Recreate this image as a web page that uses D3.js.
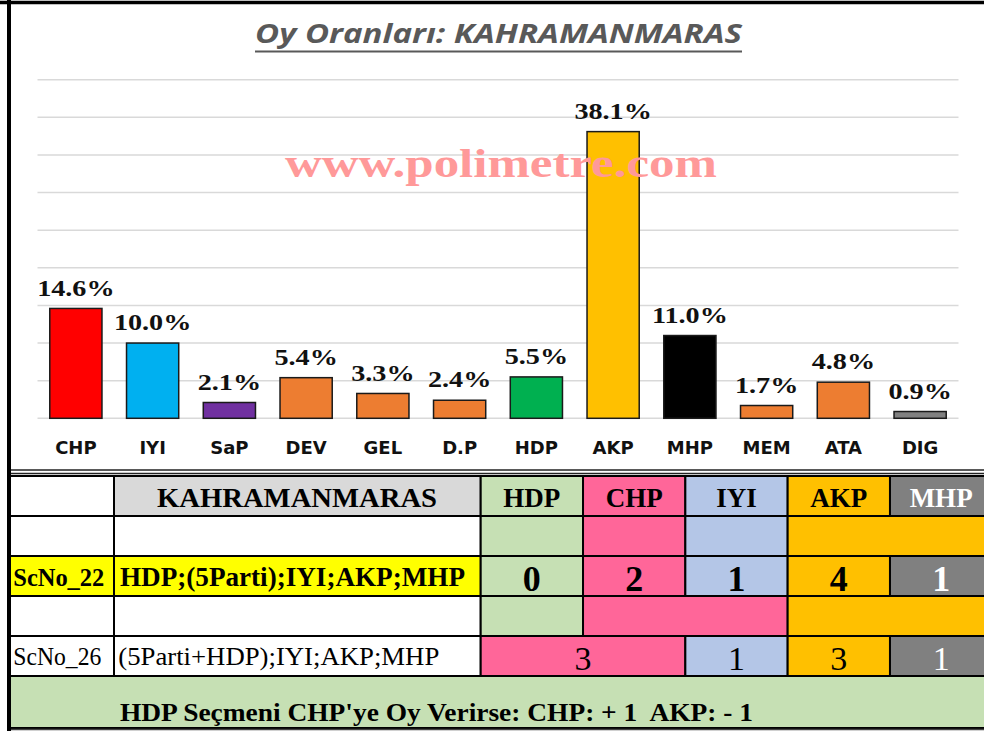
<!DOCTYPE html>
<html>
<head>
<meta charset="utf-8">
<script src="https://cdn.jsdelivr.net/npm/d3@7"></script>
<style>
  html, body { margin: 0; padding: 0; background: #fff; }
  svg { display: block; }
  text { white-space: pre; }
</style>
</head>
<body>
<main></main>
<script>
var width = 984;
var height = 731;

// chart data
var parties = ['CHP', 'IYI', 'SaP', 'DEV', 'GEL', 'D.P', 'HDP', 'AKP', 'MHP', 'MEM', 'ATA', 'DIG'];
var shares = [14.6, 10.0, 2.1, 5.4, 3.3, 2.4, 5.5, 38.1, 11.0, 1.7, 4.8, 0.9];
var barColors = ['#ff0000', '#00b0f0', '#7030a0', '#ed7d31', '#ed7d31', '#ed7d31',
                 '#00b050', '#ffc000', '#000000', '#ed7d31', '#ed7d31', '#808080'];
var yTicks = [0, 5, 10, 15, 20, 25, 30, 35, 40, 45];

// table data
var province = 'KAHRAMANMARAS';
var tableParties = ['HDP', 'CHP', 'IYI', 'AKP', 'MHP'];
var partyFills = ['#c6e0b4', '#ff6699', '#b4c6e7', '#ffc000', '#808080'];
var partyText = ['#000', '#000', '#000', '#000', '#fff'];
var scenarioIds = ['ScNo_22', 'ScNo_26'];
var scenarioOrders = ['HDP;(5Parti);IYI;AKP;MHP', '(5Parti+HDP);IYI;AKP;MHP'];
// alliance blocks: [first party, last party]
var blocks22 = [['HDP', 'HDP'], ['CHP', 'CHP'], ['IYI', 'IYI'], ['AKP', 'MHP']];
var seats22 = [0, 2, 1, 4, 1];
var blocks26 = [['HDP', 'HDP'], ['CHP', 'IYI'], ['AKP', 'MHP']];
var seatBlocks26 = [['HDP', 'CHP'], ['IYI', 'IYI'], ['AKP', 'AKP'], ['MHP', 'MHP']];
var seats26 = [3, 1, 3, 1];
var footNote = "HDP Seçmeni CHP'ye Oy Verirse: CHP: + 1  AKP: - 1";

var svg = d3.select('main').append('svg')
  .attr('width', width)
  .attr('height', height);

svg.append('rect')
  .attr('width', width)
  .attr('height', height)
  .attr('fill', '#fff');

// ---- bar chart ----
var x = d3.scaleBand()
  .domain(parties)
  .range([37.5, 958.5])
  .paddingInner(0.32)
  .paddingOuter(0.16);

var y = d3.scaleLinear()
  .domain([0, 45])
  .range([418.3, 79.7]);

svg.selectAll('.grid')
  .data(yTicks)
  .enter().append('line')
  .attr('class', 'grid')
  .attr('x1', 37.5)
  .attr('x2', 958.5)
  .attr('y1', function(d) { return y(d); })
  .attr('y2', function(d) { return y(d); })
  .attr('stroke', '#d9d9d9')
  .attr('stroke-width', 1.5);

svg.append('text')
  .attr('x', 255)
  .attr('y', 43)
  .attr('textLength', 487)
  .attr('lengthAdjust', 'spacingAndGlyphs')
  .attr('font-family', 'Open Sans')
  .attr('font-style', 'italic')
  .attr('font-weight', 'bold')
  .attr('font-size', 27)
  .attr('fill', '#595959')
  .text('Oy Oranları: ' + province);

svg.append('line')
  .attr('x1', 255).attr('x2', 742)
  .attr('y1', 51.5).attr('y2', 51.5)
  .attr('stroke', '#595959')
  .attr('stroke-width', 2);

svg.selectAll('.bar')
  .data(shares)
  .enter().append('rect')
  .attr('class', 'bar')
  .attr('x', function(d, i) { return x(parties[i]); })
  .attr('y', function(d) { return y(d); })
  .attr('width', x.bandwidth())
  .attr('height', function(d) { return y(0) - y(d); })
  .attr('fill', function(d, i) { return barColors[i]; })
  .attr('stroke', '#1a1a1a')
  .attr('stroke-width', 1.5);

svg.selectAll('.val')
  .data(shares)
  .enter().append('text')
  .attr('class', 'val')
  .attr('transform', function(d, i) {
    return 'translate(' + (x(parties[i]) + x.bandwidth() / 2) + ',' + (y(d) - 12.8) + ') scale(1.2,1)';
  })
  .attr('text-anchor', 'middle')
  .attr('font-family', 'Liberation Serif')
  .attr('font-weight', 'bold')
  .attr('font-size', 23.5)
  .attr('fill', '#111')
  .text(function(d) { return d.toFixed(1) + '%'; });

svg.selectAll('.cat')
  .data(parties)
  .enter().append('text')
  .attr('class', 'cat')
  .attr('x', function(d) { return x(d) + x.bandwidth() / 2; })
  .attr('y', 453.5)
  .attr('text-anchor', 'middle')
  .attr('font-family', 'DejaVu Sans')
  .attr('font-weight', 'bold')
  .attr('font-size', 18)
  .attr('fill', '#111')
  .text(function(d) { return d; });

// watermark
svg.append('text')
  .attr('x', 285)
  .attr('y', 176.7)
  .attr('textLength', 432)
  .attr('lengthAdjust', 'spacingAndGlyphs')
  .attr('font-family', 'Liberation Serif')
  .attr('font-weight', 'bold')
  .attr('font-size', 40)
  .attr('fill', '#ff9999')
  .text('www.polimetre.com');

// ---- table ----
var col = d3.scaleBand()
  .domain(tableParties)
  .range([480.7, 992.3]);

var row = d3.scaleBand()
  .domain([0, 1, 2, 3, 4])
  .range([476, 676]);

var table = svg.append('g');

function cell(x0, x1, r, fill) {
  table.append('rect')
    .attr('x', x0)
    .attr('y', row(r))
    .attr('width', x1 - x0)
    .attr('height', row.bandwidth())
    .attr('fill', fill)
    .attr('stroke', '#000')
    .attr('stroke-width', 2);
}

function label(txt, xPos, r, opts) {
  var t = table.append('text')
    .attr('x', xPos)
    .attr('y', row(r) + opts.dy)
    .attr('text-anchor', opts.anchor || 'middle')
    .attr('font-family', 'Liberation Serif')
    .attr('font-weight', opts.bold ? 'bold' : 'normal')
    .attr('font-size', opts.size)
    .attr('fill', opts.fill || '#000')
    .text(txt);
  if (opts.len) {
    t.attr('textLength', opts.len).attr('lengthAdjust', 'spacingAndGlyphs');
  }
}

function blockX(b) {
  return [col(b[0]), col(b[1]) + col.bandwidth()];
}

function partyFill(p) {
  return partyFills[tableParties.indexOf(p)];
}

// left columns
var leftFills = ['#fff', '#fff', '#ffff00', '#fff', '#fff'];
var midFills = ['#d9d9d9', '#fff', '#ffff00', '#fff', '#fff'];
leftFills.forEach(function(f, r) {
  cell(9, 114, r, f);
  cell(114, 480.7, r, midFills[r]);
});

// header row
tableParties.forEach(function(p, i) {
  cell(col(p), col(p) + col.bandwidth(), 0, partyFills[i]);
  label(p, col(p) + col.bandwidth() / 2, 0, { dy: 30.7, size: 27, bold: true, fill: partyText[i] });
});
label(province, 297, 0, { dy: 30.7, size: 27, bold: true, len: 280 });

// ScNo_22 alliances and seats
blocks22.forEach(function(b) {
  var xs = blockX(b);
  cell(xs[0], xs[1], 1, partyFill(b[0]));
});
tableParties.forEach(function(p, i) {
  cell(col(p), col(p) + col.bandwidth(), 2, partyFills[i]);
  label(seats22[i], col(p) + col.bandwidth() / 2, 2, { dy: 35, size: 36, bold: true, fill: partyText[i] });
});
label(scenarioIds[0], 13.3, 2, { dy: 30, size: 26, bold: true, anchor: 'start', len: 91 });
label(scenarioOrders[0], 120, 2, { dy: 30, size: 27, bold: true, anchor: 'start', len: 345 });

// ScNo_26 alliances and seats
blocks26.forEach(function(b) {
  var xs = blockX(b);
  cell(xs[0], xs[1], 3, partyFill(b[0]));
});
seatBlocks26.forEach(function(b, i) {
  var xs = blockX(b);
  var idx = tableParties.indexOf(b[1]);
  cell(xs[0], xs[1], 4, partyFill(b[1]));
  label(seats26[i], (xs[0] + xs[1]) / 2, 4, { dy: 33.5, size: 34, fill: partyText[idx] });
});
label(scenarioIds[1], 13.3, 4, { dy: 28.5, size: 25, anchor: 'start', len: 88 });
label(scenarioOrders[1], 118.3, 4, { dy: 28.5, size: 25, anchor: 'start', len: 321 });

// footer
table.append('rect')
  .attr('x', 9)
  .attr('y', 676)
  .attr('width', 990)
  .attr('height', 52)
  .attr('fill', '#c6e0b4')
  .attr('stroke', '#000')
  .attr('stroke-width', 2);

table.append('text')
  .attr('x', 120)
  .attr('y', 721)
  .attr('textLength', 633)
  .attr('lengthAdjust', 'spacingAndGlyphs')
  .attr('font-family', 'Liberation Serif')
  .attr('font-weight', 'bold')
  .attr('font-size', 26)
  .attr('fill', '#000')
  .text(footNote);

// double rule between chart and table
[470, 473.5].forEach(function(yy) {
  svg.append('line')
    .attr('x1', 9).attr('x2', width)
    .attr('y1', yy).attr('y2', yy)
    .attr('stroke', '#222')
    .attr('stroke-width', 1.5);
});

svg.append('line')
  .attr('x1', 9).attr('x2', width)
  .attr('y1', 729.5).attr('y2', 729.5)
  .attr('stroke', '#444')
  .attr('stroke-width', 1.5);

// outer frame
svg.append('line')
  .attr('x1', 0).attr('x2', width)
  .attr('y1', 2.5).attr('y2', 2.5)
  .attr('stroke', '#000')
  .attr('stroke-width', 3.5);

svg.append('line')
  .attr('x1', 9).attr('x2', 9)
  .attr('y1', 0).attr('y2', height)
  .attr('stroke', '#000')
  .attr('stroke-width', 4);
</script>
</body>
</html>
